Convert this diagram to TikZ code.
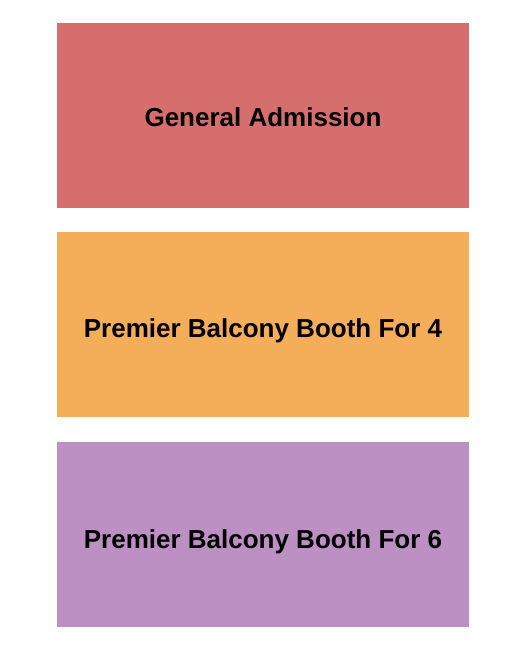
\documentclass[tikz,border=0pt]{standalone}
\usepackage{fontspec}
\setmainfont{Liberation Sans}
\usetikzlibrary{positioning}

\definecolor{gaRed}{HTML}{D76E6E}
\definecolor{boothOrange}{HTML}{F4AE5A}
\definecolor{boothPurple}{HTML}{BD90C3}

\tikzset{
  section/.style={draw=none, minimum width=412pt, minimum height=185pt, inner sep=0pt},
  sectionname/.style={anchor=base, inner sep=0pt, font=\fontsize{26}{28}\selectfont\bfseries, text=black},
}

\begin{document}
\begin{tikzpicture}[x=1pt, y=-1pt]
\useasboundingbox (0,0) rectangle (525,650);
% sections
\node[section, fill=gaRed]       (GA) at (263,115.5) {};
\node[section, fill=boothOrange] (B4) at (263,324.5) {};
\node[section, fill=boothPurple] (B6) at (263,534.5) {};
% names
\node[sectionname] (GAname) at ([yshift=-10.5pt]GA.center) {General Admission};
\node[sectionname] (B4name) at ([yshift=-13.2pt]B4.center) {Premier Balcony Booth For 4};
\node[sectionname] (B6name) at ([yshift=-13.8pt]B6.center) {Premier Balcony Booth For 6};
\end{tikzpicture}
\end{document}
